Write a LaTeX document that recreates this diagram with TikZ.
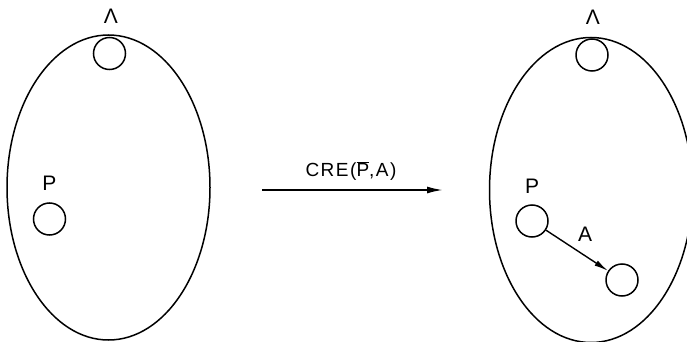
\documentclass[tikz,border=0pt]{standalone}
\usepackage{fontspec}
\setmainfont{Liberation Sans}
\usetikzlibrary{shapes.geometric,arrows.meta}
\begin{document}
\begin{tikzpicture}[x=1pt,y=-1pt,
  set/.style={draw,ellipse,line width=1.5pt,inner sep=0pt,minimum width=203pt,minimum height=305pt},
  elem/.style={draw,circle,line width=1.5pt,inner sep=0pt,minimum size=32pt},
  lbl/.style={inner sep=0pt,font=\fontsize{21}{21}\selectfont},
  conn/.style={line width=1.4pt,-{Latex[length=14pt,width=6pt]}},
  big/.style={line width=1.8pt,-{Latex[length=16pt,width=7pt]}}]
\useasboundingbox (0,0) rectangle (687,342);
% left
\node[set] (L) at (108.5,187.5) {};
\node[elem] (La) at (109.5,53.5) {};
\node[lbl] (Llam) at (111,16) {Λ};
\node[elem] (Lp) at (49.5,219) {};
\node[lbl] (LpL) at (49.5,183) {P};
% middle
\coordinate (s) at (262,190);
\coordinate (t) at (443,190);
\draw[big] (s) -- (t);
\node[lbl,font=\fontsize{19}{19}\selectfont\addfontfeature{LetterSpace=8}] (cre) at (351,171) {CRE($\overline{\mbox{P}}$,A)};
% right
\node[set] (R) at (591,190) {};
\node[elem] (Ra) at (592,55) {};
\node[lbl] (Rlam) at (593,17) {Λ};
\node[elem] (Rp) at (532,221) {};
\node[lbl] (RpL) at (532,186) {P};
\node[elem] (Rq) at (622,280) {};
\draw[conn] (Rp) -- (Rq);
\node[lbl] (Alab) at (585,234) {A};
\end{tikzpicture}
\end{document}
